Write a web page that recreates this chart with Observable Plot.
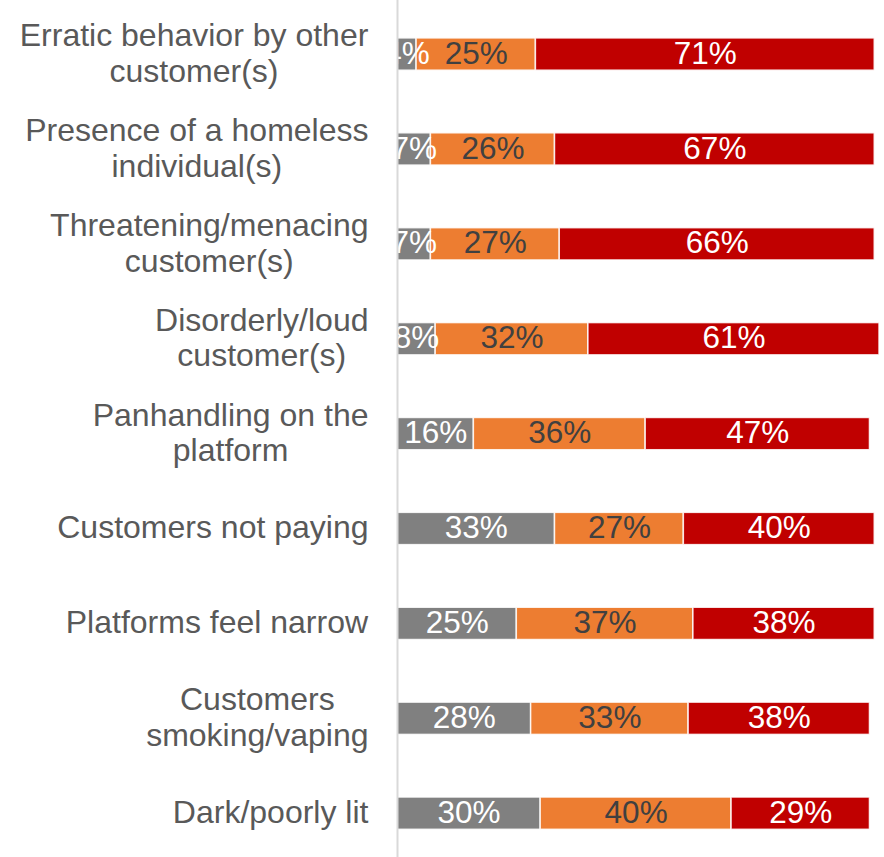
<!DOCTYPE html>
<html>
<head>
<meta charset="utf-8">
<script src="https://cdn.jsdelivr.net/npm/d3@7"></script>
<script src="https://cdn.jsdelivr.net/npm/@observablehq/plot@0.6"></script>
<style>
  html, body { margin: 0; padding: 0; background: #fff; }
  #chart { width: 884px; height: 857px; }
</style>
</head>
<body>
<div id="chart"></div>
<script>
const categories = [
  "Erratic behavior by other\ncustomer(s)",
  "Presence of a homeless\nindividual(s)",
  "Threatening/menacing\ncustomer(s)",
  "Disorderly/loud\ncustomer(s)",
  "Panhandling on the\nplatform",
  "Customers not paying",
  "Platforms feel narrow",
  "Customers\nsmoking/vaping",
  "Dark/poorly lit"
];
const seriesNames = ["Not a concern", "Somewhat of a concern", "Major concern"];
const notConcern = [4, 7, 7, 8, 16, 33, 25, 28, 30];
const somewhat = [25, 26, 27, 32, 36, 27, 37, 33, 40];
const major = [71, 67, 66, 61, 47, 40, 38, 38, 29];
const seriesColors = ["#808080", "#ED7D31", "#C00000"];
const labelColors = ["#ffffff", "#404040", "#ffffff"];

const seriesValues = [notConcern, somewhat, major];
const data = [];
categories.forEach((c, i) => {
  seriesNames.forEach((s, j) => {
    data.push({category: c, series: s, si: j, value: seriesValues[j][i]});
  });
});

const font = "Arial, 'Liberation Sans', sans-serif";

const chart = Plot.plot({
  width: 884,
  height: 857,
  marginLeft: 397,
  marginRight: 5,
  marginTop: 0,
  marginBottom: 0,
  style: {fontFamily: font, background: "#fff"},
  x: {domain: [0, 101], axis: null},
  y: {domain: categories, range: [6.6, 860.6], paddingInner: 0.66, paddingOuter: 0.33, round: false, label: null},
  color: {type: "identity"},
  marks: [
    Plot.barX(data, Plot.stackX({
      x: "value", y: "category", order: "si",
      fill: d => seriesColors[d.si],
      stroke: "white", strokeWidth: 1.5, strokeOpacity: 0.85
    })),
    Plot.text(data, Plot.stackX({
      x: "value", y: "category", order: "si",
      text: d => d.value + "%",
      fill: d => labelColors[d.si],
      fontSize: 31.5,
      dy: -1,
      clip: true
    })),
    Plot.ruleX([0], {stroke: "#d9d9d9", strokeWidth: 2}),
    Plot.axisY({
      tickSize: 0, tickPadding: 29, fontSize: 32, lineHeight: 1.115, dy: -2,
      fill: "#595959", label: null, textOverflow: null
    })
  ]
});

document.getElementById("chart").appendChild(chart);

// Center each multi-line label's lines on each other, right edge kept where Plot placed it
d3.select(chart).selectAll('g[aria-label="y-axis tick label"] text').each(function() {
  const w = this.getBBox().width;
  this.setAttribute("text-anchor", "middle");
  const t = this.getAttribute("transform") || "";
  this.setAttribute("transform", t + ` translate(${-w / 2},0)`);
});
</script>
</body>
</html>
